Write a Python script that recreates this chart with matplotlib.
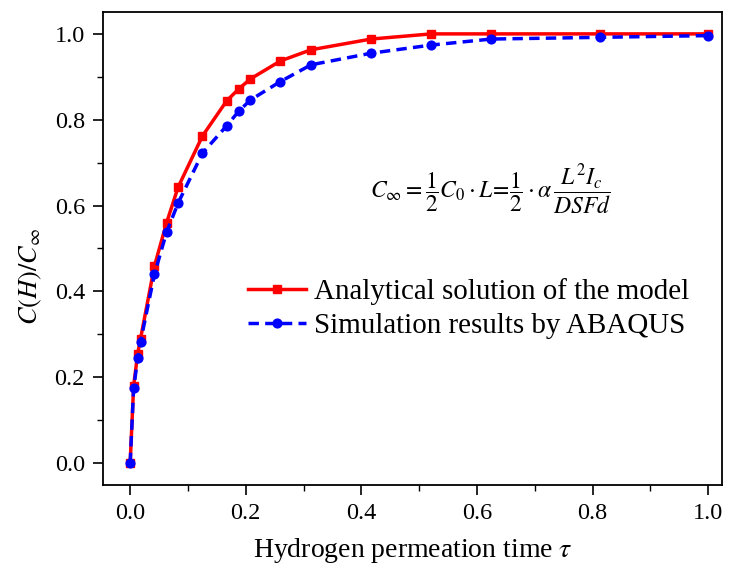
import matplotlib
matplotlib.use("Agg")
import matplotlib.pyplot as plt
from matplotlib.ticker import MultipleLocator, FormatStrFormatter

tau = [0, 0.006, 0.013, 0.018, 0.042, 0.063, 0.083, 0.125, 0.167, 0.188, 0.208,
       0.26, 0.313, 0.417, 0.521, 0.625, 0.813, 1.0]
analytical = [0, 0.18, 0.255, 0.29, 0.459, 0.56, 0.643, 0.762, 0.844, 0.872, 0.895,
              0.937, 0.963, 0.988, 1.0, 1.0, 1.0, 1.0]
abaqus = [0, 0.174, 0.244, 0.283, 0.44, 0.538, 0.606, 0.722, 0.786, 0.82, 0.846,
          0.889, 0.928, 0.955, 0.974, 0.988, 0.992, 0.996]

plt.rcParams['font.family'] = ['Liberation Serif', 'DejaVu Serif']
plt.rcParams['mathtext.fontset'] = 'stix'

fig = plt.figure(figsize=(7.29, 5.70), dpi=100)
ax = fig.add_axes([103/729, 85/570, 619/729, 473/570])

ax.plot(tau, analytical, color='#ff0000', lw=2.5, marker='s', ms=5.8,
        label='Analytical solution of the model', zorder=3)
ax.plot(tau, abaqus, color='#0000ff', lw=2.5, ls=(0, (3, 1.8)), marker='o', ms=6.3,
        label='Simulation results by ABAQUS', zorder=4)

ax.set_xlim(-0.047, 1.024)
ax.set_ylim(-0.051, 1.051)
ax.xaxis.set_major_locator(MultipleLocator(0.2))
ax.xaxis.set_minor_locator(MultipleLocator(0.1))
ax.yaxis.set_major_locator(MultipleLocator(0.2))
ax.yaxis.set_minor_locator(MultipleLocator(0.1))
ax.xaxis.set_major_formatter(FormatStrFormatter('%.1f'))
ax.yaxis.set_major_formatter(FormatStrFormatter('%.1f'))
ax.tick_params(which='major', direction='out', length=7, width=1.2, labelsize=17.5,
               top=False, right=False, pad=6)
ax.tick_params(which='minor', direction='out', length=4.5, width=1.0,
               top=False, right=False)
for s in ax.spines.values():
    s.set_linewidth(1.3)

ax.set_xlabel(r'Hydrogen permeation time $\tau$', fontsize=20)
ax.xaxis.set_label_coords(0.5, -0.108)
ax.set_ylabel(r'$C(H)/C_{\infty}$', fontsize=19)
ax.yaxis.set_label_coords(-0.095, 0.44)

ax.text(0.623, 0.636,
        r'$C_{\infty}=\dfrac{1}{2}C_0\cdot L\!=\!\dfrac{1}{2}\cdot\alpha\,\dfrac{L^2I_c}{DSFd}$',
        fontsize=17, ha='center', va='center')

ax.legend(loc='center left', bbox_to_anchor=(0.215, 0.373), frameon=False,
          fontsize=20.9, handlelength=2.0, handletextpad=0.28, labelspacing=0.25,
          borderaxespad=0)

fig.savefig('out.png', dpi=100)
